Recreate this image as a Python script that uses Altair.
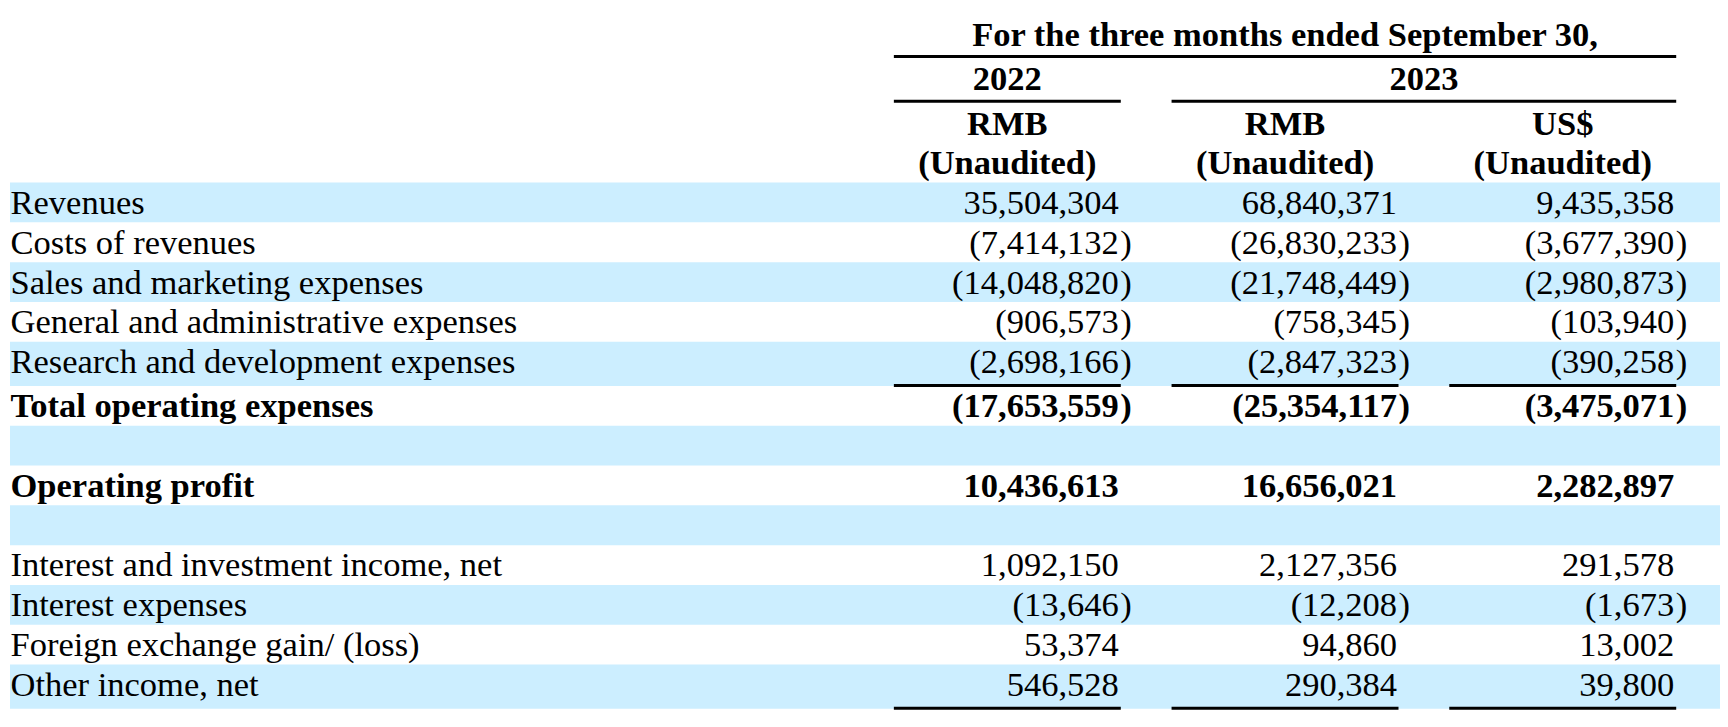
import altair as alt
import pandas as pd

# ---------------- data ----------------
labels = [
    "Revenues",
    "Costs of revenues",
    "Sales and marketing expenses",
    "General and administrative expenses",
    "Research and development expenses",
    "Total operating expenses",
    "",
    "Operating profit",
    "",
    "Interest and investment income, net",
    "Interest expenses",
    "Foreign exchange gain/ (loss)",
    "Other income, net",
]
rmb_2022 = [35504304, -7414132, -14048820, -906573, -2698166, -17653559, None,
            10436613, None, 1092150, -13646, 53374, 546528]
rmb_2023 = [68840371, -26830233, -21748449, -758345, -2847323, -25354117, None,
            16656021, None, 2127356, -12208, 94860, 290384]
usd_2023 = [9435358, -3677390, -2980873, -103940, -390258, -3475071, None,
            2282897, None, 291578, -1673, 13002, 39800]
bold_rows = ["Total operating expenses", "Operating profit"]
underlined_rows = ["Research and development expenses", "Other income, net"]
title_text = "For the three months ended September 30,"
years = ["2022", "2023"]
currencies = ["RMB", "RMB", "US$"]
audit_note = "(Unaudited)"

# ---------------- layout (page pixels) ----------------
W, H = 1712, 706
X0, Y0 = 8, 8
FONT = "Liberation Serif"
FS = 34.67
ROW_H = 40
RULE_EXTRA = 4.3
FIRST_TOP = 181.7
BASE_OFF = 31.5
BAND_LEFT, BAND_RIGHT = 10, 1728
LABEL_X = 10.5
col_left = [898, 1177, 1456]
col_w = 228
col_right = [1124, 1403.5, 1682]
col_center = [l + col_w / 2 for l in col_left]

tops, bottoms = [], []
t = FIRST_TOP
for lab in labels:
    h = ROW_H + (RULE_EXTRA if lab in underlined_rows else 0)
    tops.append(t)
    bottoms.append(t + h)
    t += h

bands = pd.DataFrame([
    {"x": BAND_LEFT, "x2": BAND_RIGHT, "y": tops[i], "y2": bottoms[i]}
    for i in range(len(labels)) if i % 2 == 0
])

rules = [
    {"x": col_left[0], "x2": col_left[2] + col_w, "y": 55},
    {"x": col_left[0], "x2": col_left[0] + col_w, "y": 100},
    {"x": col_left[1], "x2": col_left[2] + col_w, "y": 100},
]
for i, lab in enumerate(labels):
    if lab in underlined_rows:
        for c in range(3):
            rules.append({"x": col_left[c], "x2": col_left[c] + col_w, "y": bottoms[i] - 0.5})
rules = pd.DataFrame(rules)

label_df = pd.DataFrame([
    {"text": lab, "x": LABEL_X, "y": tops[i] + BASE_OFF, "bold": lab in bold_rows}
    for i, lab in enumerate(labels) if lab
])

cells = []
for c, series in enumerate([rmb_2022, rmb_2023, usd_2023]):
    for i, v in enumerate(series):
        if v is None:
            continue
        neg = v < 0
        cells.append({
            "body": ("(" if neg else "") + f"{abs(v):,}",
            "suffix": ")" if neg else "",
            "x": col_right[c],
            "xs": col_right[c] + 1.5,
            "y": tops[i] + BASE_OFF,
            "bold": labels[i] in bold_rows,
        })
cells = pd.DataFrame(cells)

headers = [{"text": title_text, "x": col_center[1], "y": 45}]
headers.append({"text": years[0], "x": col_center[0], "y": 89})
headers.append({"text": years[1], "x": (col_left[1] + col_left[2] + col_w) / 2, "y": 89})
for c in range(3):
    headers.append({"text": currencies[c], "x": col_center[c], "y": 133.5})
    headers.append({"text": audit_note, "x": col_center[c], "y": 173.5})
headers = pd.DataFrame(headers)

# ---------------- chart ----------------
xs = alt.Scale(domain=[X0, X0 + W], nice=False, zero=False)
ys = alt.Scale(domain=[Y0, Y0 + H], reverse=True, nice=False, zero=False)


def X(f="x"):
    return alt.X(f"{f}:Q", scale=xs, axis=None)


def Y(f="y"):
    return alt.Y(f"{f}:Q", scale=ys, axis=None)


band_layer = alt.Chart(bands).mark_rect(color="#CCEEFF").encode(
    x=X(), x2="x2:Q", y=Y(), y2="y2:Q")

rule_layer = alt.Chart(rules).mark_rule(color="black", strokeWidth=3).encode(
    x=X(), x2="x2:Q", y=Y())


def text_layer(df, field, xfield, align, bold):
    return alt.Chart(df).transform_filter(
        alt.datum.bold if bold else ~alt.datum.bold
    ).mark_text(
        font=FONT, fontSize=FS, align=align, baseline="alphabetic",
        color="black", fontWeight="bold" if bold else "normal",
    ).encode(x=X(xfield), y=Y(), text=f"{field}:N")


layers = [band_layer, rule_layer]
for b in (False, True):
    layers.append(text_layer(label_df, "text", "x", "left", b))
    layers.append(text_layer(cells, "body", "x", "right", b))
    layers.append(text_layer(cells, "suffix", "xs", "left", b))

header_layer = alt.Chart(headers).mark_text(
    font=FONT, fontSize=FS, align="center", baseline="alphabetic",
    color="black", fontWeight="bold",
).encode(x=X(), y=Y(), text="text:N")
layers.append(header_layer)

chart = alt.layer(*layers).properties(
    width=W, height=H,
    padding={"left": 0, "top": 0, "right": 8, "bottom": 0},
    autosize="none",
    background="white",
).configure_view(stroke=None)

chart.save("out.html", embed_options={"renderer": "svg", "actions": False})
